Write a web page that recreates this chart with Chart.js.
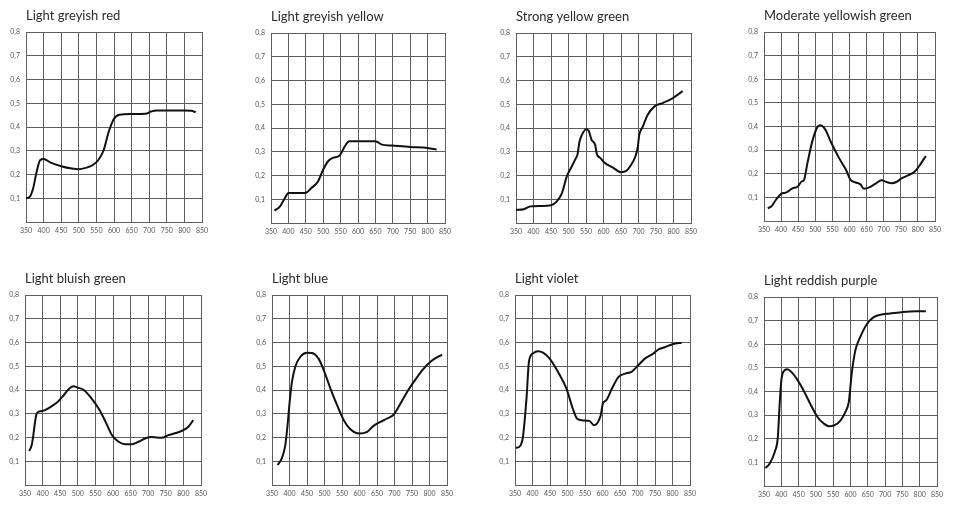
<!DOCTYPE html>
<html>
<head>
<meta charset="utf-8">
<script src="https://cdn.jsdelivr.net/npm/chart.js@4"></script>
<style>
  html, body { margin: 0; padding: 0; background: #fff; }
  body { width: 953px; height: 508px; position: relative; overflow: hidden; }
  canvas { position: absolute; }
</style>
</head>
<body>
<script>
const wavelengthTicks = [350, 400, 450, 500, 550, 600, 650, 700, 750, 800, 850];
const reflectanceTicks = [0, 0.1, 0.2, 0.3, 0.4, 0.5, 0.6, 0.7, 0.8];
const reflectanceLabels = ['', '0,1', '0,2', '0,3', '0,4', '0,5', '0,6', '0,7', '0,8'];

const titles = [
  'Light greyish red', 'Light greyish yellow', 'Strong yellow green', 'Moderate yellowish green',
  'Light bluish green', 'Light blue', 'Light violet', 'Light reddish purple'
];

// wavelength (nm) / reflectance pairs
const greyishRedNm = [350, 360, 370, 380, 390, 400, 420, 450, 480, 500, 520, 540, 555, 570, 585, 600, 615, 650, 690, 705, 720, 760, 800, 820, 832];
const greyishRedR  = [0.10, 0.105, 0.14, 0.21, 0.26, 0.265, 0.25, 0.235, 0.225, 0.222, 0.228, 0.24, 0.26, 0.30, 0.38, 0.435, 0.452, 0.455, 0.456, 0.465, 0.47, 0.47, 0.47, 0.468, 0.462];

const greyishYellowNm = [360, 376, 390, 400, 419, 448, 466, 485, 500, 514, 528, 547, 561, 575, 600, 650, 669, 698, 750, 800, 826];
const greyishYellowR  = [0.052, 0.07, 0.105, 0.126, 0.126, 0.126, 0.147, 0.175, 0.225, 0.26, 0.274, 0.284, 0.32, 0.344, 0.344, 0.344, 0.33, 0.326, 0.32, 0.316, 0.309];

const yellowGreenNm = [350, 372, 391, 420, 450, 466, 481, 495, 510, 520, 526, 531, 538, 550, 557, 566, 576, 581, 590, 602, 628, 650, 664, 679, 691, 698, 702, 712, 726, 745, 769, 797, 826];
const yellowGreenR  = [0.055, 0.058, 0.07, 0.072, 0.075, 0.09, 0.125, 0.195, 0.24, 0.27, 0.29, 0.34, 0.37, 0.395, 0.39, 0.35, 0.33, 0.29, 0.275, 0.255, 0.232, 0.214, 0.218, 0.245, 0.28, 0.32, 0.37, 0.405, 0.455, 0.49, 0.505, 0.525, 0.555];

const yellowishGreenNm = [361, 371, 385, 400, 414, 433, 448, 460, 467, 477, 491, 505, 514, 528, 547, 570, 590, 603, 618, 632, 642, 656, 675, 694, 709, 723, 737, 752, 771, 790, 804, 823];
const yellowishGreenR  = [0.054, 0.061, 0.09, 0.115, 0.12, 0.138, 0.145, 0.167, 0.174, 0.245, 0.336, 0.395, 0.405, 0.39, 0.33, 0.265, 0.216, 0.174, 0.163, 0.155, 0.137, 0.141, 0.157, 0.172, 0.165, 0.16, 0.165, 0.18, 0.193, 0.208, 0.233, 0.275];

const bluishGreenNm = [362, 369, 373, 378, 383, 392, 405, 424, 443, 461, 476, 487, 500, 517, 536, 560, 579, 597, 616, 635, 654, 672, 691, 710, 738, 757, 781, 800, 814, 828];
const bluishGreenR  = [0.143, 0.168, 0.203, 0.26, 0.30, 0.31, 0.314, 0.33, 0.35, 0.38, 0.406, 0.416, 0.41, 0.40, 0.37, 0.32, 0.266, 0.21, 0.182, 0.172, 0.172, 0.182, 0.196, 0.202, 0.199, 0.21, 0.22, 0.231, 0.245, 0.273];

const lightBlueNm = [366, 378, 388, 394, 400, 407, 417, 431, 450, 464, 483, 498, 517, 536, 555, 574, 600, 622, 640, 660, 679, 698, 717, 736, 755, 779, 802, 821, 836];
const lightBlueR  = [0.084, 0.112, 0.168, 0.245, 0.343, 0.434, 0.50, 0.54, 0.557, 0.556, 0.532, 0.483, 0.406, 0.336, 0.273, 0.235, 0.217, 0.224, 0.249, 0.266, 0.28, 0.297, 0.343, 0.392, 0.434, 0.483, 0.518, 0.537, 0.549];

const violetNm = [352, 362, 369, 373, 383, 390, 402, 416, 430, 449, 473, 497, 515, 527, 543, 562, 576, 585, 595, 601, 611, 627, 646, 665, 683, 702, 721, 745, 759, 778, 802, 826];
const violetR  = [0.157, 0.16, 0.178, 0.206, 0.367, 0.521, 0.555, 0.563, 0.557, 0.532, 0.476, 0.406, 0.322, 0.28, 0.272, 0.27, 0.252, 0.26, 0.294, 0.343, 0.357, 0.406, 0.455, 0.469, 0.476, 0.504, 0.532, 0.553, 0.57, 0.58, 0.594, 0.599];

const reddishPurpleNm = [354, 366, 381, 390, 395, 400, 410, 417, 429, 448, 467, 486, 505, 524, 538, 552, 571, 585, 595, 604, 614, 628, 648, 667, 686, 714, 752, 790, 818];
const reddishPurpleR  = [0.076, 0.094, 0.144, 0.207, 0.341, 0.446, 0.49, 0.494, 0.483, 0.446, 0.397, 0.341, 0.291, 0.263, 0.253, 0.256, 0.277, 0.313, 0.355, 0.482, 0.574, 0.63, 0.687, 0.715, 0.725, 0.73, 0.737, 0.74, 0.74];

const seriesNm = [greyishRedNm, greyishYellowNm, yellowGreenNm, yellowishGreenNm, bluishGreenNm, lightBlueNm, violetNm, reddishPurpleNm];
const seriesR = [greyishRedR, greyishYellowR, yellowGreenR, yellowishGreenR, bluishGreenR, lightBlueR, violetR, reddishPurpleR];

// plot area of each panel: left, top, width, height
const plotBoxes = [
  [26, 32, 176, 190], [271, 33, 174, 190], [516, 33, 175, 190], [764, 32, 171, 189],
  [25, 295, 176, 190], [272, 295, 175, 190], [515, 295, 175, 190], [764, 297, 173, 189]
];

const AXIS_W = 26, TITLE_H = 32, XAXIS_H = 20, RIGHT_PAD = 14;
const gridColor = '#5e5e5e';

function makePanel(i) {
  const [left, top, w, h] = plotBoxes[i];
  const canvas = document.createElement('canvas');
  canvas.width = w + AXIS_W + RIGHT_PAD;
  canvas.height = h + TITLE_H + XAXIS_H;
  canvas.style.left = (left - AXIS_W) + 'px';
  canvas.style.top = (top - TITLE_H) + 'px';
  document.body.appendChild(canvas);

  const nm = seriesNm[i];
  const refl = seriesR[i];

  new Chart(canvas.getContext('2d'), {
    type: 'line',
    data: {
      datasets: [{
        data: nm.map((x, k) => ({ x: x, y: refl[k] })),
        borderColor: '#111',
        borderWidth: 2,
        pointRadius: 0,
        cubicInterpolationMode: 'monotone',
        fill: false
      }]
    },
    options: {
      responsive: false,
      animation: false,
      devicePixelRatio: 1,
      layout: { padding: { left: 0, right: RIGHT_PAD, top: 0, bottom: 0 } },
      plugins: {
        legend: { display: false },
        tooltip: { enabled: false },
        title: {
          display: true,
          text: titles[i],
          align: 'start',
          fullSize: false,
          color: '#2a2a2a',
          font: { family: 'Lato', size: 13, weight: 'normal', lineHeight: 1.2 },
          padding: { top: 8.4, bottom: 8 }
        }
      },
      scales: {
        x: {
          type: 'linear',
          min: 350,
          max: 850,
          afterBuildTicks: s => { s.ticks = wavelengthTicks.map(v => ({ value: v })); },
          afterFit: s => { s.height = XAXIS_H; },
          grid: { color: gridColor, lineWidth: 1, drawTicks: false },
          border: { color: gridColor, width: 1 },
          ticks: { color: '#555', font: { family: 'Lato', size: 7 }, padding: 5, maxRotation: 0, autoSkip: false }
        },
        y: {
          type: 'linear',
          min: 0,
          max: 0.8,
          afterBuildTicks: s => { s.ticks = reflectanceTicks.map(v => ({ value: v })); },
          afterFit: s => { s.width = AXIS_W; },
          grid: { color: gridColor, lineWidth: 1, drawTicks: false },
          border: { color: gridColor, width: 1 },
          ticks: {
            color: '#555',
            font: { family: 'Lato', size: 7 },
            padding: 6,
            autoSkip: false,
            callback: (v, k) => reflectanceLabels[k]
          }
        }
      }
    }
  });
}

for (let i = 0; i < titles.length; i++) makePanel(i);
</script>
</body>
</html>
